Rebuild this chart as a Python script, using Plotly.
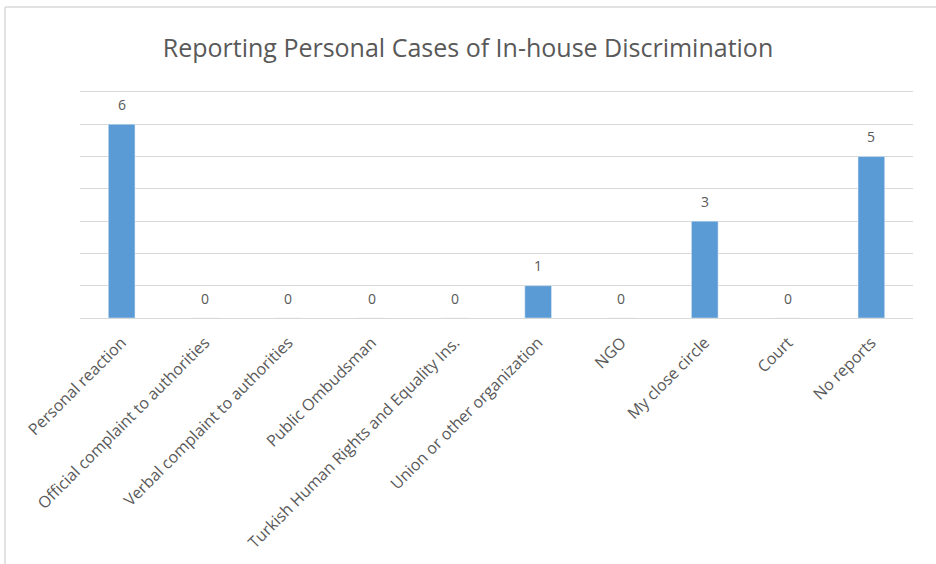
import plotly.graph_objects as go

categorias = ["Personal reaction", "Official complaint to authorities", "Verbal complaint to authorities",
              "Public Ombudsman", "Turkish Human Rights and Equality Ins.", "Union or other organization",
              "NGO", "My close circle", "Court", "No reports"]
casos = [6, 0, 0, 0, 0, 1, 0, 3, 0, 5]

gris = "#595959"
fuente = "Open Sans"

fig = go.Figure()
fig.add_trace(go.Bar(x=categorias, y=casos, marker=dict(color="#5B9BD5"), hoverinfo="x+y"))

# etiquetas de valores encima de cada barra
for cat, val in zip(categorias, casos):
    fig.add_annotation(x=cat, y=val, text=str(val), showarrow=False, yanchor="middle", yshift=20,
                       font=dict(family=fuente, size=14, color=gris))

fig.update_layout(title=dict(text="Reporting Personal Cases of In-house Discrimination",
                             x=0.5, xanchor="center", y=0.915, yanchor="middle",
                             font=dict(family=fuente, size=25, color=gris)),
                  width=936, height=564, margin=dict(l=80, r=23, t=92, b=246),
                  plot_bgcolor="white", paper_bgcolor="white", bargap=0.68,
                  showlegend=False, font=dict(family=fuente, color=gris))
fig.update_xaxes(tickangle=-45, tickfont=dict(size=16, color=gris), showgrid=False,
                 showline=True, mirror=True, linecolor="#d9d9d9", ticks="", ticklabelstandoff=8)
fig.update_yaxes(range=[0, 7], dtick=1, showticklabels=False, gridcolor="#d9d9d9",
                 gridwidth=1, zeroline=True, zerolinecolor="#d9d9d9", zerolinewidth=1)

# marco del gráfico (arriba e izquierda)
fig.add_shape(type="line", xref="paper", yref="paper", x0=-0.090, x1=1.03, y0=1.376, y1=1.376,
              line=dict(color="#d9d9d9", width=1.5))
fig.add_shape(type="line", xref="paper", yref="paper", x0=-0.090, x1=-0.090, y0=1.376, y1=-1.1,
              line=dict(color="#d9d9d9", width=1.5))

fig.write_html("out.html", config={"displayModeBar": False},
               post_script="document.body.style.margin='0';")
